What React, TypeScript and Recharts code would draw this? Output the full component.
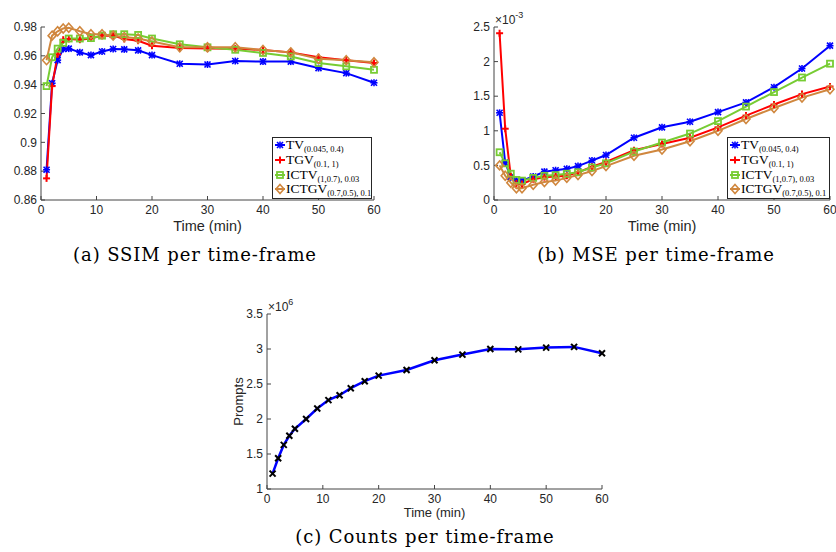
import React from 'react';
import { LineChart, Line, XAxis, YAxis, Legend, Label } from 'recharts';

// time-frame centres (min)
const timeMin = [1, 2, 3, 4, 5, 7, 9, 11, 13, 15, 17.5, 20, 25, 30, 35, 40, 45, 50, 55, 60];

const ssimTV = [0.881, 0.941, 0.957, 0.9647, 0.965, 0.9624, 0.9605, 0.963, 0.9647, 0.9645, 0.9638, 0.9605, 0.9545, 0.954, 0.9564, 0.956, 0.956, 0.9515, 0.948, 0.9413];
const ssimTGV = [0.875, 0.939, 0.961, 0.9712, 0.9717, 0.9712, 0.972, 0.974, 0.974, 0.9717, 0.9705, 0.967, 0.9654, 0.965, 0.965, 0.964, 0.9624, 0.959, 0.957, 0.955];
const ssimICTV = [0.939, 0.959, 0.965, 0.969, 0.972, 0.972, 0.9723, 0.974, 0.975, 0.975, 0.9745, 0.972, 0.968, 0.9659, 0.9642, 0.962, 0.9596, 0.955, 0.9527, 0.9503];
const ssimICTGV = [0.957, 0.974, 0.977, 0.979, 0.9795, 0.977, 0.975, 0.975, 0.974, 0.973, 0.972, 0.97, 0.966, 0.966, 0.966, 0.964, 0.9624, 0.958, 0.957, 0.9555];

// MSE in units of 1e-3
const mseTV = [1.26, 0.54, 0.33, 0.28, 0.28, 0.34, 0.41, 0.43, 0.45, 0.49, 0.57, 0.65, 0.9, 1.05, 1.13, 1.27, 1.41, 1.63, 1.9, 2.23];
const mseTGV = [2.41, 1.03, 0.34, 0.24, 0.23, 0.3, 0.33, 0.34, 0.35, 0.4, 0.48, 0.55, 0.72, 0.81, 0.9, 1.05, 1.22, 1.38, 1.53, 1.64];
const mseICTV = [0.69, 0.53, 0.38, 0.29, 0.28, 0.32, 0.35, 0.36, 0.38, 0.4, 0.47, 0.53, 0.7, 0.83, 0.96, 1.14, 1.35, 1.56, 1.77, 1.97];
const mseICTGV = [0.5, 0.35, 0.25, 0.17, 0.17, 0.22, 0.26, 0.28, 0.32, 0.36, 0.42, 0.49, 0.64, 0.73, 0.85, 1.0, 1.17, 1.33, 1.48, 1.6];

// prompt counts in units of 1e6
const prompts = [1.22, 1.44, 1.63, 1.76, 1.86, 2.0, 2.15, 2.27, 2.34, 2.44, 2.54, 2.62, 2.7, 2.84, 2.92, 3.0, 2.995, 3.02, 3.03, 2.94];

const timeTicks = [0, 10, 20, 30, 40, 50, 60];
const ssimTicks = [0.86, 0.88, 0.9, 0.92, 0.94, 0.96, 0.98];
const mseTicks = [0, 0.5, 1, 1.5, 2, 2.5];
const countTicks = [1, 1.5, 2, 2.5, 3, 3.5];

const methods = [
  { key: 'tv', name: 'TV', sub: '(0.045, 0.4)', color: '#0000ff', marker: 'star' },
  { key: 'tgv', name: 'TGV', sub: '(0.1, 1)', color: '#ff0000', marker: 'plus' },
  { key: 'ictv', name: 'ICTV', sub: '(1,0.7), 0.03', color: '#77cc33', marker: 'square' },
  { key: 'ictgv', name: 'ICTGV', sub: '(0.7,0.5), 0.1', color: '#d0873e', marker: 'diamond' },
];

const ssimRows = timeMin.map((t, i) => ({ t, tv: ssimTV[i], tgv: ssimTGV[i], ictv: ssimICTV[i], ictgv: ssimICTGV[i] }));
const mseRows = timeMin.map((t, i) => ({ t, tv: mseTV[i], tgv: mseTGV[i], ictv: mseICTV[i], ictgv: mseICTGV[i] }));
const countRows = timeMin.map((t, i) => ({ t, n: prompts[i] }));

const AXIS = '#444';
const TXT = '#262626';
const SANS = 'Liberation Sans, Arial, sans-serif';
const tickFont = { fontFamily: SANS, fontSize: 12, fill: TXT };
const fmt = (v: number) => String(Number(v.toFixed(2)));

function Marker({ kind, cx, cy, color }: { kind: string; cx: number; cy: number; color: string }) {
  if (cx == null || cy == null) return null;
  const s = 3;
  if (kind === 'star') {
    return (
      <g stroke={color} strokeWidth={1.6}>
        <line x1={cx - s} y1={cy - s} x2={cx + s} y2={cy + s} />
        <line x1={cx - s} y1={cy + s} x2={cx + s} y2={cy - s} />
        <line x1={cx - s - 0.5} y1={cy} x2={cx + s + 0.5} y2={cy} />
        <line x1={cx} y1={cy - s - 0.5} x2={cx} y2={cy + s + 0.5} />
      </g>
    );
  }
  if (kind === 'plus') {
    return (
      <g stroke={color} strokeWidth={2}>
        <line x1={cx - 3.5} y1={cy} x2={cx + 3.5} y2={cy} />
        <line x1={cx} y1={cy - 3.5} x2={cx} y2={cy + 3.5} />
      </g>
    );
  }
  if (kind === 'square') {
    return <rect x={cx - 3} y={cy - 3} width={6} height={6} fill="none" stroke={color} strokeWidth={1.8} />;
  }
  if (kind === 'diamond') {
    return <path d={`M${cx},${cy - 4.5} L${cx + 4},${cy} L${cx},${cy + 4.5} L${cx - 4},${cy} Z`} fill="none" stroke={color} strokeWidth={1.6} />;
  }
  // black x for counts
  return (
    <g stroke="#000" strokeWidth={2}>
      <line x1={cx - 3} y1={cy - 3} x2={cx + 3} y2={cy + 3} />
      <line x1={cx - 3} y1={cy + 3} x2={cx + 3} y2={cy - 3} />
    </g>
  );
}

const dotFor = (kind: string, color: string) => (p: any) => (
  <Marker key={`${kind}-${p.index}`} kind={kind} cx={p.cx} cy={p.cy} color={color} />
);

function MethodLegend({ width }: { width: number }) {
  return (
    <div
      style={{
        border: '1px solid #262626',
        background: '#fff',
        padding: '0px 2px 1px 1px',
        fontFamily: 'Liberation Serif, Times New Roman, serif',
        color: '#000',
        width,
        boxSizing: 'border-box',
      }}
    >
      {methods.map(m => (
        <div key={m.key} style={{ display: 'flex', alignItems: 'center', height: 14.7, whiteSpace: 'nowrap' }}>
          <svg width={12} height={12} style={{ flex: 'none' }}>
            <line x1={1} y1={6} x2={11} y2={6} stroke={m.color} strokeWidth={2} />
            <Marker kind={m.marker} cx={6} cy={6} color={m.color} />
          </svg>
          <span style={{ fontSize: 13.5, marginLeft: 0 }}>{m.name}</span>
          <span style={{ fontSize: 8.5, position: 'relative', top: 4 }}>{m.sub}</span>
        </div>
      ))}
    </div>
  );
}

function Exponent({ viewBox, exp }: any) {
  const { x, y, width } = viewBox;
  return (
    <text x={x + width + 1} y={y - 3} style={{ fontFamily: SANS }} fontSize={12} fill={TXT}>
      ×10
      <tspan dy={-6} fontSize={9}>{exp}</tspan>
    </text>
  );
}

const caption: React.CSSProperties = {
  position: 'absolute',
  fontFamily: 'DejaVu Serif, serif',
  fontSize: 18,
  letterSpacing: 0.9,
  color: '#000',
  textAlign: 'center',
  width: 320,
  lineHeight: '20px',
};

function MethodChart({ rows, yDomain, yTicks, yWidth, rightMargin, exp, legendLeft, legendWidth }: any) {
  return (
    <LineChart
      width={416}
      height={240}
      data={rows}
      margin={{ top: 27, right: rightMargin, bottom: 0, left: 0 }}
      style={{ position: 'absolute', left: 0, top: 0 }}
    >
      <XAxis
        dataKey="t"
        type="number"
        domain={[0, 60]}
        ticks={timeTicks}
        interval={0}
        height={40}
        tickSize={-4}
        tickMargin={9}
        tick={tickFont}
        stroke={AXIS}
      >
        <Label
          value="Time (min)"
          position="insideBottom"
          offset={9}
          style={{ fontFamily: SANS, fontSize: 14.5, fill: TXT }}
        />
      </XAxis>
      <XAxis xAxisId="top" orientation="top" dataKey="t" type="number" domain={[0, 60]} ticks={timeTicks} interval={0} height={0} tickSize={-4} tick={false} stroke={AXIS} />
      <YAxis
        type="number"
        domain={yDomain}
        ticks={yTicks}
        interval={0}
        width={yWidth}
        tickSize={-4}
        tickMargin={8}
        tickFormatter={fmt}
        tick={tickFont}
        stroke={AXIS}
      >
        {exp ? <Label content={(p: any) => <Exponent viewBox={p.viewBox} exp={exp} />} /> : null}
      </YAxis>
      <YAxis yAxisId="right" orientation="right" type="number" domain={yDomain} ticks={yTicks} interval={0} width={0} tickSize={-4} tick={false} stroke={AXIS} />
      {methods.map(m => (
        <Line
          key={m.key}
          dataKey={m.key}
          name={m.name}
          stroke={m.color}
          strokeWidth={2}
          dot={dotFor(m.marker, m.color)}
          activeDot={false}
          isAnimationActive={false}
        />
      ))}
      <Legend
        layout="vertical"
        align="center"
        verticalAlign="middle"
        content={() => <MethodLegend width={legendWidth} />}
        wrapperStyle={{ left: legendLeft, top: 137, width: 'auto' }}
      />
    </LineChart>
  );
}

export default function App() {
  return (
    <div style={{ position: 'absolute', left: 0, top: 0, width: 836, height: 552, background: '#fff', overflow: 'hidden' }}>
      {/* (a) SSIM: plot x 41..374, y 27..200 */}
      <div style={{ position: 'absolute', left: 0, top: 0, width: 416, height: 240 }}>
        <MethodChart rows={ssimRows} yDomain={[0.86, 0.98]} yTicks={ssimTicks} yWidth={41} rightMargin={42} legendLeft={272} legendWidth={100} />
      </div>
      {/* (b) MSE: plot x 494..830 */}
      <div style={{ position: 'absolute', left: 420, top: 0, width: 416, height: 240 }}>
        <MethodChart rows={mseRows} yDomain={[0, 2.5]} yTicks={mseTicks} yWidth={74} rightMargin={6} exp="-3" legendLeft={307} legendWidth={103} />
      </div>
      <div style={{ ...caption, left: 35, top: 245 }}>(a) SSIM per time-frame</div>
      <div style={{ ...caption, left: 496, top: 245 }}>(b) MSE per time-frame</div>

      {/* (c) counts: plot x 267..602, y 314..489 */}
      <LineChart
        width={440}
        height={235}
        data={countRows}
        margin={{ top: 24, right: 18, bottom: 0, left: 29 }}
        style={{ position: 'absolute', left: 180, top: 290 }}
      >
        <XAxis
          dataKey="t"
          type="number"
          domain={[0, 60]}
          ticks={timeTicks}
          interval={0}
          height={36}
          tickSize={-4}
          tickMargin={9}
          tick={tickFont}
          stroke={AXIS}
        >
          <Label
            value="Time (min)"
            position="insideBottom"
            offset={8}
            style={{ fontFamily: SANS, fontSize: 13, fill: TXT }}
          />
        </XAxis>
        <XAxis xAxisId="top" orientation="top" dataKey="t" type="number" domain={[0, 60]} ticks={timeTicks} interval={0} height={0} tickSize={-4} tick={false} stroke={AXIS} />
        <YAxis
          type="number"
          domain={[1, 3.5]}
          ticks={countTicks}
          interval={0}
          width={58}
          tickSize={-4}
          tickMargin={8}
          tickFormatter={fmt}
          tick={tickFont}
          stroke={AXIS}
        >
          <Label content={(p: any) => <Exponent viewBox={p.viewBox} exp="6" />} />
          <Label
            value="Prompts"
            content={(p: any) => {
              const { x, y, height } = p.viewBox;
              const cx = x + 29;
              const cy = y + height / 2;
              return (
                <text
                  x={cx}
                  y={cy}
                  transform={`rotate(-90, ${cx}, ${cy})`}
                  textAnchor="middle"
                  dominantBaseline="central"
                  style={{ fontFamily: SANS, fontSize: 13, fill: TXT }}
                >
                  Prompts
                </text>
              );
            }}
          />
        </YAxis>
        <YAxis yAxisId="right" orientation="right" type="number" domain={[1, 3.5]} ticks={countTicks} interval={0} width={0} tickSize={-4} tick={false} stroke={AXIS} />
        <Line
          dataKey="n"
          stroke="#0000ff"
          strokeWidth={2.5}
          dot={dotFor('x', '#000')}
          activeDot={false}
          isAnimationActive={false}
        />
      </LineChart>
      <div style={{ ...caption, left: 265, top: 527 }}>(c) Counts per time-frame</div>
    </div>
  );
}
